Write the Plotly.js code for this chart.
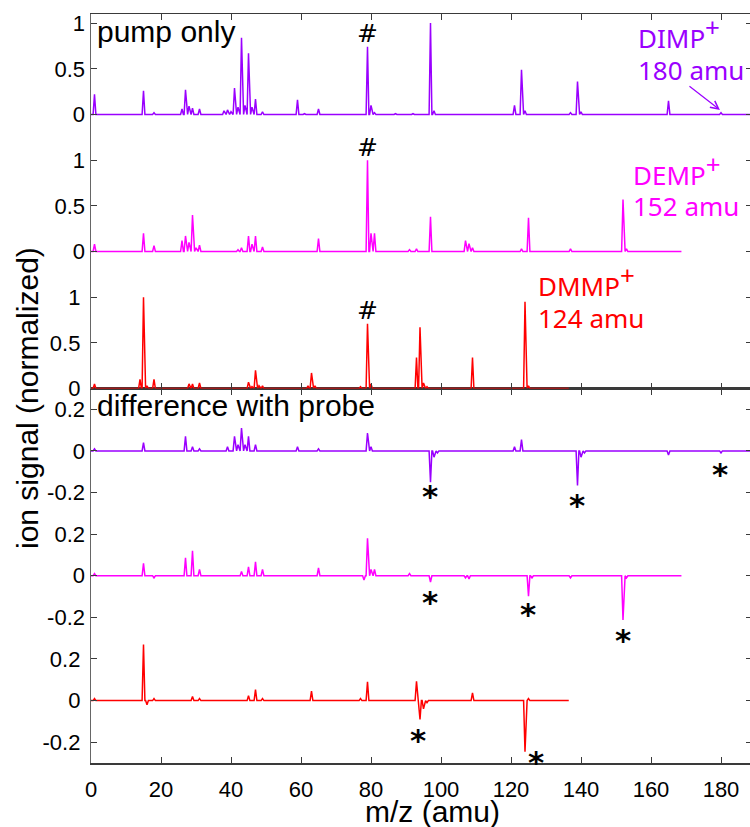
<!DOCTYPE html>
<html><head><meta charset="utf-8">
<script src="https://cdn.plot.ly/plotly-3.0.1.min.js"></script>
<style>html,body{margin:0;padding:0;overflow:hidden;background:#fff}#chart{width:752px;height:827px}</style>
</head><body><div id="chart"></div>
<script>
// ---------- data (m/z in amu, normalized ion signal) ----------
const xTickVals = [0, 20, 40, 60, 80, 100, 120, 140, 160, 180];
const pumpTickVals = [0, 0.5, 1];
const pumpTickText = ['0', '0.5', '1'];
const diffTickVals = [-0.2, 0, 0.2];
const diffTickText = ['-0.2', '0', '0.2'];

// last m/z recorded for each compound
const dimpEnd = 190;
const dempEnd = 168.7;
const dmmpEnd = 136.5;

// pump only spectra: peak m/z and heights
const dimpPumpMz  = [1, 15, 18, 26, 27, 28, 29, 31, 38, 39, 40, 41, 42, 43, 44, 45, 46, 47, 49, 59, 61, 65, 79, 80, 81, 87, 92, 97, 98, 121, 123, 124, 137, 139, 140, 165, 180];
const dimpPumpVal = [0.22, 0.26, 0.02, 0.06, 0.27, 0.09, 0.07, 0.06, 0.04, 0.05, 0.03, 0.29, 0.08, 0.84, 0.1, 0.67, 0.08, 0.17, 0.03, 0.16, 0.01, 0.06, 0.74, 0.1, 0.02, 0.01, 0.01, 1.0, 0.04, 0.1, 0.49, 0.04, 0.02, 0.36, 0.03, 0.15, 0.02];

const dempPumpMz  = [1, 15, 18, 26, 27, 28, 29, 30, 31, 42, 43, 45, 46, 47, 49, 65, 79, 80, 81, 91, 93, 97, 107, 108, 109, 123, 125, 137, 152, 153];
const dempPumpVal = [0.08, 0.2, 0.065, 0.12, 0.17, 0.1, 0.4, 0.04, 0.07, 0.02, 0.04, 0.17, 0.08, 0.17, 0.05, 0.14, 1.0, 0.2, 0.2, 0.02, 0.03, 0.38, 0.12, 0.085, 0.04, 0.03, 0.37, 0.03, 0.57, 0.03];

const dmmpPumpMz  = [1, 14, 15, 16, 18, 28, 29, 31, 45, 46, 47, 48, 49, 62, 63, 64, 77, 79, 80, 93, 94, 95, 96, 109, 124, 125];
const dmmpPumpVal = [0.05, 0.1, 1.0, 0.03, 0.1, 0.05, 0.05, 0.06, 0.07, 0.02, 0.2, 0.03, 0.03, 0.03, 0.17, 0.03, 0.02, 0.71, 0.05, 0.34, 0.67, 0.06, 0.02, 0.34, 0.95, 0.03];

// difference with probe: peak m/z and signed heights
const dimpDiffMz  = [1, 15, 27, 29, 31, 39, 41, 42, 43, 44, 45, 47, 59, 65, 79, 80, 97, 98, 99, 121, 123, 139, 140, 141, 165, 180];
const dimpDiffVal = [0.01, 0.04, 0.07, 0.02, 0.01, 0.02, 0.07, 0.03, 0.11, 0.03, 0.07, 0.03, 0.02, 0.01, 0.086, 0.02, -0.15, -0.03, -0.01, 0.02, 0.054, -0.166, -0.03, -0.01, -0.02, -0.01];

const dempDiffMz  = [1, 15, 18, 27, 29, 31, 43, 45, 47, 49, 65, 78, 79, 80, 81, 91, 97, 107, 108, 125, 126, 137, 152, 153];
const dempDiffVal = [0.01, 0.06, -0.01, 0.086, 0.12, 0.03, 0.02, 0.043, 0.067, 0.03, 0.038, -0.02, 0.18, 0.03, 0.03, 0.01, -0.03, -0.01, -0.015, -0.098, -0.01, -0.01, -0.213, -0.01];

const dmmpDiffMz  = [1, 15, 16, 18, 29, 31, 45, 47, 49, 63, 77, 79, 93, 94, 95, 96, 109, 124, 125];
const dmmpDiffVal = [0.01, 0.27, -0.02, 0.01, 0.02, 0.01, 0.024, 0.053, 0.01, 0.045, 0.01, 0.09, 0.093, -0.091, -0.04, -0.01, 0.037, -0.246, 0.01];

// ---------- styling ----------
const PURPLE = '#9a00ff', MAGENTA = '#ff00ff', RED = '#ff0000';
const AXC = '#3a3a3a';
const SANS = 'Liberation Sans, Arial, sans-serif';
const LABF = 'Noto Sans, Open Sans, sans-serif';

// draw each listed peak as a narrow stick on a zero baseline
function stickLine(mz, val, end) {
  const hw = 0.4;
  const xs = [0], ys = [0];
  mz.forEach((m, i) => { xs.push(m - hw, m, m + hw); ys.push(0, val[i], 0); });
  xs.push(end); ys.push(0);
  return {x: xs, y: ys};
}
function trace(mz, val, end, color, xa, ya) {
  const d = stickLine(mz, val, end);
  return {x: d.x, y: d.y, type: 'scatter', mode: 'lines', xaxis: xa, yaxis: ya,
          line: {color: color, width: 1.5}, hoverinfo: 'skip', showlegend: false};
}

const data = [
  trace(dmmpPumpMz, dmmpPumpVal, dmmpEnd, RED, 'x2', 'y'),
  trace(dempPumpMz, dempPumpVal, dempEnd, MAGENTA, 'x2', 'y2'),
  trace(dimpPumpMz, dimpPumpVal, dimpEnd, PURPLE, 'x2', 'y3'),
  trace(dmmpDiffMz, dmmpDiffVal, dmmpEnd, RED, 'x', 'y4'),
  trace(dempDiffMz, dempDiffVal, dempEnd, MAGENTA, 'x', 'y5'),
  trace(dimpDiffMz, dimpDiffVal, dimpEnd, PURPLE, 'x', 'y6'),
];

const tickStyle = {ticks: 'inside', ticklen: 6, tickwidth: 1, tickcolor: AXC,
  showgrid: false, zeroline: false, mirror: 'ticks', fixedrange: true,
  tickfont: {family: SANS, size: 22, color: '#000'}};

function yAx(range, domain, vals, text, extra) {
  return Object.assign({}, tickStyle, {range: range, tickmode: 'array', tickvals: vals, ticktext: text,
    ticklabelstandoff: 5}, domain ? {domain: domain} : {}, extra);
}

const layout = {
  width: 752, height: 827,
  margin: {l: 91, r: 0, t: 14, b: 64},
  paper_bgcolor: '#fff', plot_bgcolor: 'rgba(0,0,0,0)',
  xaxis: Object.assign({}, tickStyle, {range: [0, 188.857], domain: [0, 1], anchor: 'y4',
    tickmode: 'array', tickvals: xTickVals, showline: true, linecolor: AXC, linewidth: 1.5,
    ticklabelstandoff: 6}),
  xaxis2: Object.assign({}, tickStyle, {range: [0, 188.857], domain: [0, 1], anchor: 'y', matches: 'x',
    tickmode: 'array', tickvals: xTickVals, showticklabels: false, showline: true, linecolor: AXC, linewidth: 1.5}),
  yaxis:  yAx([0, 4.1], [0.5, 1], pumpTickVals, pumpTickText, {anchor: 'x2', showline: true, linecolor: '#666', linewidth: 1.2}),
  yaxis2: yAx([-1.5, 2.6], null, pumpTickVals, pumpTickText, {anchor: 'x2', overlaying: 'y'}),
  yaxis3: yAx([-3, 1.1], null, pumpTickVals, pumpTickText, {anchor: 'x2', overlaying: 'y'}),
  yaxis4: yAx([-0.3, 1.5], [0, 0.5], diffTickVals, diffTickText, {anchor: 'x', showline: true, linecolor: '#666', linewidth: 1.2}),
  yaxis5: yAx([-0.9, 0.9], null, diffTickVals, diffTickText, {anchor: 'x', overlaying: 'y4'}),
  yaxis6: yAx([-1.5, 0.3], null, diffTickVals, diffTickText, {anchor: 'x', overlaying: 'y4'}),
  annotations: []
};

// pixel-row helper for paper y (plot spans rows 14..763)
const py = p => (763 - p) / 749;
const A = layout.annotations;
function txt(text, x, yPaper, size, color, family, xanchor, yanchor, extra) {
  A.push(Object.assign({text: text, x: x, xref: 'x', y: yPaper, yref: 'paper', showarrow: false,
    xanchor: xanchor, yanchor: yanchor, font: {family: family, size: size, color: color}}, extra || {}));
}

// panel titles
txt('pump only', 1.0, py(50.4), 30, '#000', SANS, 'left', 'bottom');
txt('difference with probe', 1.0, py(424.4), 30, '#000', SANS, 'left', 'bottom');

// compound labels (large raised plus sign)
const PLUS = '<sup><span style="font-size:26px">+</span></sup>';
txt('DIMP' + PLUS, 155.7, py(57.9), 26, PURPLE, LABF, 'left', 'bottom');
txt('180 amu', 155.7, py(89.9), 26, PURPLE, LABF, 'left', 'bottom');
txt('DEMP' + PLUS, 154.3, py(194.9), 26, MAGENTA, LABF, 'left', 'bottom');
txt('152 amu', 154.3, py(225.9), 26, MAGENTA, LABF, 'left', 'bottom');
txt('DMMP' + PLUS, 127.1, py(305.9), 26, RED, LABF, 'left', 'bottom');
txt('124 amu', 127.1, py(337.9), 26, RED, LABF, 'left', 'bottom');

// arrow to the 180 amu parent ion
A.push({text: '', x: 179.7, xref: 'x', y: py(110), yref: 'paper', showarrow: true,
  ax: -32, ay: -25, arrowhead: 5, arrowsize: 1.3, arrowwidth: 1.2, arrowcolor: PURPLE, standoff: 0});

// '#' markers at m/z 79
[33.5, 147.5, 310.5].forEach(p => txt('#', 78.86, py(p), 25, '#000', 'DejaVu Sans, sans-serif', 'center', 'middle'));

// '*' markers at depleted parent/fragment ions
const STARF = 'DejaVu Sans, sans-serif';
[[96.86, 490], [138.86, 498], [179.71, 467], [96.86, 595], [124.86, 607], [152, 633], [93.43, 733], [127.14, 755]]
  .forEach(s => txt('<b>*</b>', s[0], py(s[1] + 6.5), 31, '#000', STARF, 'center', 'middle'));

// axis titles
A.push({text: 'ion signal (normalized)', xref: 'paper', x: (28 - 91) / 661, yref: 'paper', y: py(398),
  showarrow: false, textangle: -90, xanchor: 'center', yanchor: 'middle', font: {family: SANS, size: 30, color: '#000'}});
A.push({text: 'm/z (amu)', xref: 'paper', x: (433 - 91) / 661, yref: 'paper', y: py(812),
  showarrow: false, xanchor: 'center', yanchor: 'middle', font: {family: SANS, size: 30, color: '#000'}});

Plotly.newPlot('chart', data, layout, {displayModeBar: false, staticPlot: true});
</script></body></html>
